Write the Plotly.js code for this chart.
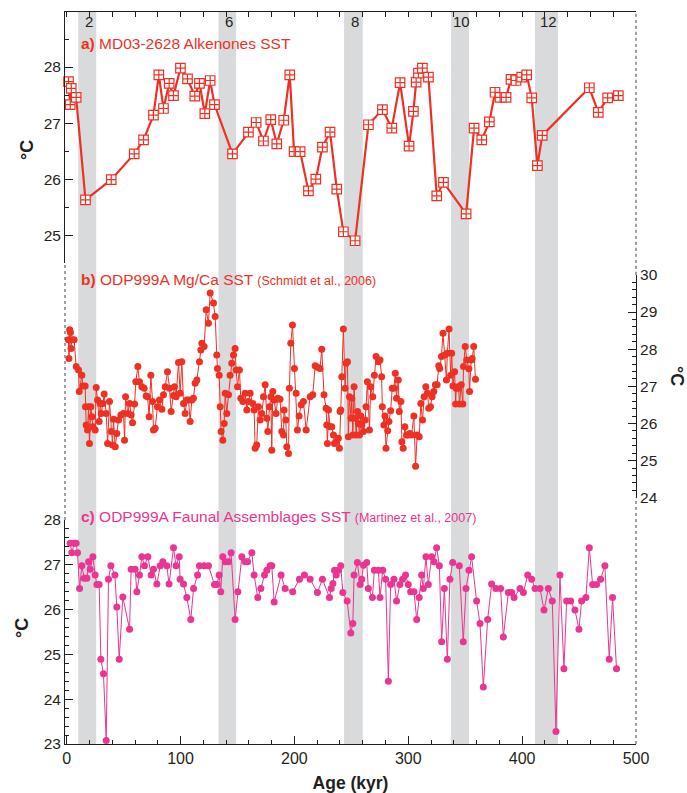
<!DOCTYPE html>
<html><head><meta charset="utf-8">
<script src="https://cdn.plot.ly/plotly-3.0.1.min.js"></script>
<style>html,body{margin:0;padding:0;background:#fff}#chart{width:687px;height:793px}</style>
</head><body><div id="chart"></div>
<script>
// MIS glacial bands (kyr)
const bandStart = [10.1, 133.3, 243.6, 337.6, 411.3];
const bandEnd   = [25.9, 148.8, 260.0, 353.4, 431.5];
const bandLabel = ['2', '6', '8', '10', '12'];

// a) MD03-2628 Alkenones SST
const aX = [1.6,3.1,4.0,8.3,16.5,39.1,59.3,67.5,76.2,80.9,85.0,90.0,93.8,99.9,106.1,112.5,116.6,121.3,126.0,129.8,145.6,159.6,166.4,172.8,179.2,184.5,190.6,195.9,199.7,205.0,212.3,218.8,224.6,231.3,237.2,243.0,253.3,265.0,277.3,285.5,292.8,300.7,304.5,306.9,308.9,312.4,317.7,325.0,330.9,350.8,357.8,364.5,371.2,376.2,380.6,385.9,390.2,394.6,399.6,404.0,408.4,413.4,417.7,459.0,466.9,475.1,484.5];
const aY = [27.74,27.33,27.62,27.46,25.63,25.99,26.45,26.70,27.14,27.86,27.26,27.71,27.49,27.98,27.79,27.48,27.71,27.17,27.76,27.33,26.45,26.84,27.01,26.68,27.06,26.63,27.05,27.86,26.49,26.49,25.79,26.00,26.57,26.84,25.82,25.06,24.90,26.97,27.24,26.91,27.72,26.59,27.21,27.73,27.89,27.98,27.82,25.70,25.94,25.38,26.91,26.70,27.02,27.55,27.46,27.46,27.78,27.76,27.82,27.86,27.45,26.24,26.78,27.63,27.19,27.45,27.49];

// b) ODP999A Mg/Ca SST (Schmidt et al., 2006)
const bX = [1.5,2.0,2.6,3.3,3.8,4.5,6.5,8.3,10.4,11.0,13.3,14.2,16.2,16.5,17.1,18.3,19.2,20.0,21.2,22.1,23.0,25.0,25.9,27.1,28.5,29.4,30.3,31.8,32.9,34.7,35.9,37.6,39.1,40.2,41.1,42.6,44.0,45.5,47.6,49.9,50.8,51.7,53.7,55.2,56.6,57.8,59.6,60.7,62.5,63.9,66.0,68.0,69.8,71.0,72.4,73.9,75.4,76.2,77.7,79.7,81.5,83.6,85.0,86.5,88.5,90.3,91.7,93.8,94.7,96.1,98.2,99.6,101.1,102.6,104.0,105.5,107.0,108.4,109.9,111.3,112.8,114.3,116.6,117.8,118.7,120.7,122.5,124.5,126.0,128.9,130.4,131.8,132.4,133.9,134.8,135.6,137.1,138.3,139.2,140.6,142.1,143.5,145.0,146.5,147.9,148.8,150.0,151.7,152.9,154.7,156.7,158.2,159.6,161.1,163.4,164.6,165.5,166.9,168.4,169.9,171.3,172.8,174.3,175.8,176.6,178.1,179.3,180.1,181.0,182.2,183.9,185.4,187.4,188.9,190.4,190.9,192.4,193.3,194.8,195.6,196.8,198.3,200.0,201.5,202.6,204.1,205.9,207.9,210.3,213.8,216.1,218.2,220.2,222.5,224.0,226.0,227.8,228.4,229.0,229.9,231.3,232.8,234.3,235.1,236.6,238.6,239.5,240.1,240.7,241.6,243.0,244.5,245.4,246.6,247.4,248.3,249.7,250.4,251.3,252.4,253.3,254.2,255.4,256.2,257.1,258.3,259.2,260.6,262.1,262.9,264.1,265.9,267.0,268.8,270.2,271.7,273.7,275.2,276.6,277.2,278.6,279.5,280.4,281.9,283.0,284.5,285.9,287.4,288.6,289.7,291.2,292.1,293.5,294.4,295.5,297.0,298.5,299.9,301.4,302.9,304.9,306.4,307.8,309.6,311.0,312.5,313.9,315.4,316.9,318.0,319.5,320.9,322.4,323.8,325.3,326.8,327.6,329.1,330.5,332.0,333.5,334.3,335.8,337.2,338.1,339.2,340.7,341.6,342.1,343.6,344.2,345.0,346.5,347.9,348.5,350.0,351.4,353.2,353.8,355.2,356.1,357.5,359.0];
const bY = [28.25,27.75,28.52,28.45,28.02,28.25,28.25,27.53,27.44,26.86,27.30,27.01,27.01,26.45,25.96,25.82,26.45,25.46,26.45,26.18,25.91,25.82,26.97,26.63,26.05,26.54,26.27,26.54,26.79,26.27,25.46,26.59,25.78,25.42,26.11,25.37,25.73,26.09,26.23,26.27,25.55,26.72,26.27,26.54,26.23,26.02,26.52,27.12,27.53,27.12,26.99,26.95,26.74,26.72,26.18,27.30,26.59,25.82,25.87,26.45,26.63,26.38,26.77,26.99,27.39,26.95,26.32,26.75,26.99,26.72,27.64,26.81,27.66,26.54,26.27,26.63,26.63,26.05,26.63,26.68,27.08,27.17,27.66,27.98,28.16,28.07,29.06,28.70,29.51,29.24,28.88,27.84,27.48,27.30,26.45,25.78,25.55,26.00,26.81,26.27,26.77,27.30,27.62,27.84,28.02,27.44,26.99,27.44,26.68,26.59,26.81,26.36,26.59,26.81,26.54,26.36,25.33,25.42,26.45,26.09,26.27,26.72,27.04,26.14,25.78,26.45,26.72,25.28,26.86,26.63,26.27,26.68,26.65,25.78,25.69,26.36,26.09,25.37,25.19,26.95,28.16,28.65,27.48,26.81,25.82,26.20,26.50,26.59,25.82,26.72,26.77,27.55,27.51,27.48,28.00,26.77,26.41,25.96,25.46,26.36,25.91,25.91,25.69,25.46,25.51,25.60,25.33,26.32,26.36,27.26,28.54,26.95,27.62,27.66,25.64,26.72,26.14,26.68,25.69,26.99,26.14,25.69,26.32,26.00,25.69,26.20,25.96,25.78,26.09,26.45,27.12,25.82,26.99,26.72,27.30,27.80,27.66,27.71,27.26,26.45,25.96,26.20,25.33,25.80,26.05,26.34,26.95,26.95,27.35,26.68,27.17,26.32,26.59,25.51,25.33,25.91,25.69,25.69,25.73,25.69,26.20,24.85,25.69,25.64,26.54,26.09,26.72,26.99,26.81,26.41,26.45,26.72,26.86,27.04,27.04,27.55,27.48,27.80,28.43,27.84,27.17,27.89,28.54,27.30,27.89,27.01,27.39,26.52,26.95,26.99,26.95,26.52,27.04,26.52,27.53,28.07,27.71,27.47,26.86,27.71,27.75,28.07,27.19];

// c) ODP999A Faunal Assemblages SST (Martinez et al., 2007)
const cX = [3.1,4.5,6.6,8.3,9.5,11.3,13.3,15.4,17.7,19.2,20.6,23.0,25.0,26.5,28.5,30.0,32.3,34.7,36.7,38.8,42.3,44.0,46.1,49.3,55.2,56.6,60.1,61.6,63.9,66.0,68.3,71.3,74.2,76.2,79.2,82.1,84.4,87.9,89.9,93.8,96.0,98.8,99.6,102.6,105.5,109.0,111.4,114.9,116.6,120.7,124.5,129.8,131.9,133.9,135.3,137.1,139.2,142.1,144.4,147.9,150.3,153.8,156.7,158.8,162.6,164.6,167.8,170.5,173.7,175.8,178.7,180.1,182.2,188.3,191.8,198.5,204.4,208.8,213.8,220.2,224.6,230.8,232.3,233.8,235.2,236.7,238.7,240.7,242.5,246.3,249.5,251.3,252.4,255.3,257.7,259.1,260.6,263.5,264.9,268.5,270.2,273.7,275.2,277.5,280.1,282.5,284.5,287.4,289.7,292.6,295.0,297.6,300.0,302.1,305.0,307.4,309.6,311.7,313.2,315.5,317.6,320.5,322.6,324.9,327.3,329.3,331.7,334.3,336.6,339.0,344.8,348.3,350.7,353.3,355.6,360.0,363.0,365.9,369.7,373.2,377.0,381.1,383.5,387.9,390.8,392.9,398.1,401.1,404.9,408.4,411.3,415.7,419.2,423.0,426.5,429.7,433.2,436.7,439.1,442.6,446.4,449.9,452.2,456.0,459.0,461.9,465.4,468.9,472.7,476.5,479.4,482.9];
const cY = [27.48,27.27,27.48,27.48,27.27,26.47,26.98,26.70,26.70,27.07,26.90,27.18,26.77,26.56,26.56,24.89,24.57,23.08,26.68,26.98,26.77,26.06,24.89,26.28,25.56,26.90,26.90,26.40,26.77,27.18,26.98,27.18,26.77,26.90,26.57,26.98,27.07,26.98,26.57,27.38,26.98,27.18,26.68,26.57,26.27,25.78,26.47,26.77,26.98,26.98,26.98,26.56,26.56,26.77,26.40,27.18,27.07,27.07,27.27,25.78,26.40,27.18,27.07,27.07,27.27,26.77,26.27,26.47,26.77,26.88,26.98,26.98,26.17,26.77,26.47,26.40,26.68,26.77,26.68,26.38,26.68,26.27,26.47,26.58,26.88,26.77,26.88,26.98,26.38,26.19,25.48,25.69,26.77,27.05,26.56,26.68,26.99,27.05,26.47,26.27,26.88,26.88,26.27,26.88,26.68,24.40,26.56,26.68,26.19,26.56,26.68,26.77,26.56,26.40,26.40,25.78,26.27,26.77,26.47,27.18,26.56,27.18,27.07,27.38,26.98,25.28,26.47,24.89,26.68,27.05,26.98,25.28,26.47,26.88,27.18,26.19,25.69,24.27,25.78,26.57,26.47,26.47,25.39,26.38,26.38,26.27,26.47,26.38,26.77,26.68,26.47,26.47,25.99,26.47,26.19,23.28,26.77,24.68,26.19,26.19,25.99,25.56,26.19,26.27,27.38,26.56,26.56,26.68,26.98,24.89,26.27,24.68];

const xTicks = [0, 100, 200, 300, 400, 500];
const tickA = [25, 26, 27, 28];
const tickB = [24, 25, 26, 27, 28, 29, 30];
const tickC = [23, 24, 25, 26, 27, 28];

const RED = '#ee3124', PINK = '#ea3593', INK = '#231f20';
const FONT = 'Liberation Sans, Arial, Helvetica, sans-serif';

const traces = [
  {x: aX, y: aY, xaxis: 'x', yaxis: 'y', mode: 'lines+markers', cliponaxis: false,
   line: {color: RED, width: 2.2},
   marker: {symbol: 'square-cross', size: 9.5, color: '#ffffff', line: {color: RED, width: 1.2}}},
  {x: bX, y: bY, xaxis: 'x', yaxis: 'y2', mode: 'lines+markers',
   line: {color: RED, width: 1},
   marker: {symbol: 'circle', size: 7, color: RED}},
  {x: cX, y: cY, xaxis: 'x', yaxis: 'y3', mode: 'lines+markers', cliponaxis: false,
   line: {color: PINK, width: 1},
   marker: {symbol: 'circle', size: 7, color: PINK}}
];

const shapes = [];
const annotations = [];
for (let i = 0; i < bandStart.length; i++) {
  shapes.push({type: 'rect', xref: 'x', yref: 'paper', x0: bandStart[i], x1: bandEnd[i], y0: 0, y1: 1,
               fillcolor: '#d9dadb', line: {width: 0}, layer: 'below'});
  annotations.push({xref: 'x', yref: 'paper', x: (bandStart[i] + bandEnd[i]) / 2 + 1.5, y: (744 - 22) / 733,
                    xanchor: 'center', yanchor: 'middle',
                    text: bandLabel[i], showarrow: false, font: {size: 15, color: INK, family: FONT}});
}
// dotted frame parts
const dot = {color: '#444', width: 1, dash: 'dot'};
shapes.push({type: 'line', xref: 'paper', yref: 'paper', x0: 0, x1: 0, y0: 0.3056, y1: 0.656, line: dot});
shapes.push({type: 'line', xref: 'paper', yref: 'paper', x0: 1, x1: 1, y0: 0.0, y1: 0.336, line: dot});
shapes.push({type: 'line', xref: 'paper', yref: 'paper', x0: 1, x1: 1, y0: 0.640, y1: 1, line: dot});

function pxX(px) { return (px - 65) / 571; }
function pxY(py) { return (744 - py) / 733; }

annotations.push(
  {xref: 'paper', yref: 'paper', x: pxX(79), y: pxY(44), xanchor: 'left', yanchor: 'middle', showarrow: false,
   text: '<b>a)</b> MD03-2628 Alkenones SST', font: {size: 15.5, color: RED, family: FONT}},
  {xref: 'paper', yref: 'paper', x: pxX(79), y: pxY(279), xanchor: 'left', yanchor: 'middle', showarrow: false,
   text: '<b>b)</b> ODP999A Mg/Ca SST <span style="font-size:12.5px">(Schmidt et al., 2006)</span>',
   font: {size: 15.5, color: RED, family: FONT}},
  {xref: 'paper', yref: 'paper', x: pxX(79), y: pxY(516), xanchor: 'left', yanchor: 'middle', showarrow: false,
   text: '<b>c)</b> ODP999A Faunal Assemblages SST <span style="font-size:12.5px">(Martinez et al., 2007)</span>',
   font: {size: 15.5, color: PINK, family: FONT}},
  {xref: 'paper', yref: 'paper', x: pxX(27), y: pxY(150), xanchor: 'center', yanchor: 'middle', showarrow: false, textangle: -90,
   text: '<b>°C</b>', font: {size: 18, color: INK, family: FONT}},
  {xref: 'paper', yref: 'paper', x: pxX(22), y: pxY(628), xanchor: 'center', yanchor: 'middle', showarrow: false, textangle: -90,
   text: '<b>°C</b>', font: {size: 18, color: INK, family: FONT}},
  {xref: 'paper', yref: 'paper', x: pxX(677), y: pxY(376), xanchor: 'center', yanchor: 'middle', showarrow: false, textangle: 90,
   text: '<b>°C</b>', font: {size: 18, color: INK, family: FONT}}
);

const yCommon = {showline: true, linecolor: INK, linewidth: 1, ticks: 'inside', ticklen: 8, tickwidth: 1,
                 tickcolor: INK, showgrid: false, zeroline: false, anchor: 'x',
                 tickfont: {size: 15.5, color: INK, family: FONT},
                 minor: {ticks: 'inside', ticklen: 4, tickwidth: 1, tickcolor: INK, showgrid: false}};

const layout = {
  width: 687, height: 793,
  margin: {l: 65, r: 51, t: 11, b: 49},
  paper_bgcolor: '#ffffff', plot_bgcolor: 'rgba(0,0,0,0)',
  showlegend: false,
  font: {family: FONT, color: INK},
  xaxis: {range: [-1.5, 500], anchor: 'y3', showline: true, linecolor: INK, linewidth: 1,
          ticks: 'inside', ticklen: 8, tickcolor: INK, tickvals: xTicks, showgrid: false, zeroline: false,
          tickfont: {size: 16, color: INK, family: FONT},
          minor: {ticks: 'inside', ticklen: 4, dtick: 20, tickcolor: INK, showgrid: false},
          title: {text: '<b>Age (kyr)</b>', font: {size: 17.5, color: INK, family: FONT}, standoff: 10}},
  xaxis2: {range: [-1.5, 500], overlaying: 'x', side: 'top', anchor: 'free', position: 1,
           showline: true, linecolor: INK, linewidth: 1, ticks: 'inside', ticklen: 5, tickcolor: INK,
           dtick: 20, tick0: 0, showticklabels: false, showgrid: false, zeroline: false},
  yaxis: Object.assign({}, yCommon, {domain: [0.656, 1], range: [24.5, 29], tickvals: tickA,
          minor: Object.assign({}, yCommon.minor, {dtick: 0.5, tick0: 0})}),
  yaxis2: Object.assign({}, yCommon, {domain: [0.336, 0.640], range: [24, 30], tickvals: tickB, side: 'right',
          minor: Object.assign({}, yCommon.minor, {dtick: 0.2, tick0: 0})}),
  yaxis3: Object.assign({}, yCommon, {domain: [0, 0.3056], range: [23, 28], tickvals: tickC,
          minor: Object.assign({}, yCommon.minor, {dtick: 0.2, tick0: 0})}),
  shapes: shapes,
  annotations: annotations
};

// invisible trace so the top axis (xaxis2) is drawn
traces.push({x: [0], y: [0], xaxis: 'x2', yaxis: 'y', mode: 'markers', marker: {opacity: 0}, hoverinfo: 'skip'});

Plotly.newPlot('chart', traces, layout, {displayModeBar: false, staticPlot: true});
</script></body></html>
